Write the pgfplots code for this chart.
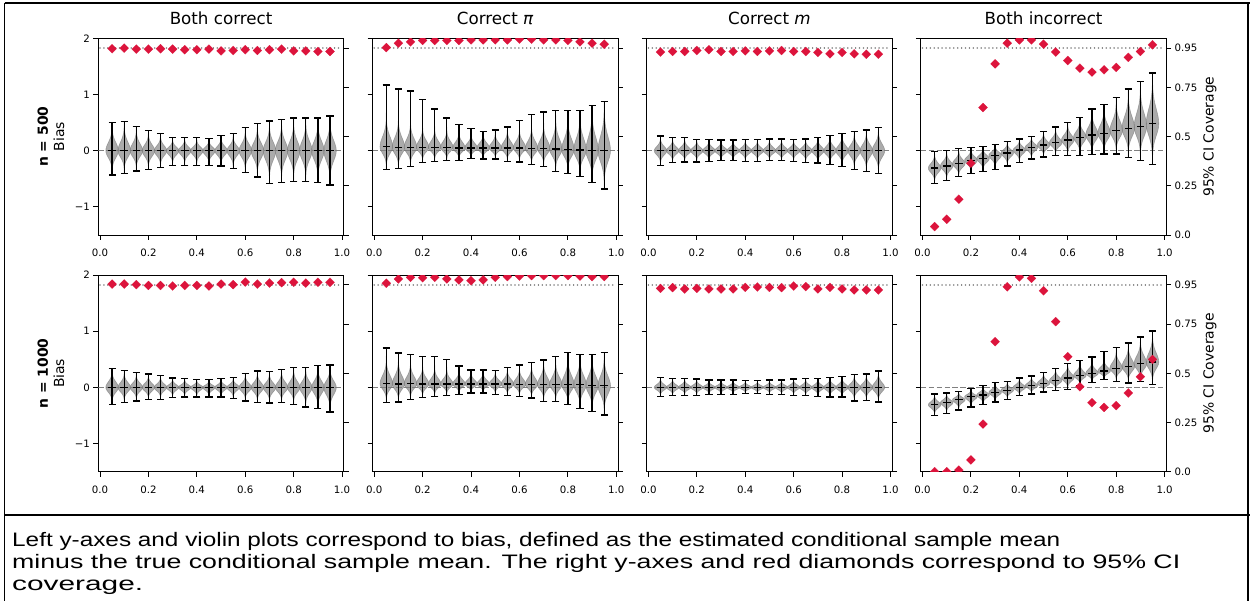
\documentclass[border=0pt]{standalone}
\usepackage{fontspec}
\setmainfont{DejaVu Sans}
\newfontfamily\capfont{Liberation Sans}
\usepackage{graphicx}
\usepackage{pgfplots}
\usepackage{pgfplotstable}
\pgfplotsset{compat=1.18}
\definecolor{crim}{HTML}{DC143C}

% normalized violin outline (u = relative half-width, z = offset in sigmas)
\pgfplotstableread{
u z
0 -3.5
0.0051 -3.25
0.0111 -3
0.0228 -2.75
0.0439 -2.5
0.0796 -2.25
0.1353 -2
0.2163 -1.75
0.3247 -1.5
0.4578 -1.25
0.6065 -1
0.7548 -0.75
0.8825 -0.5
0.9692 -0.25
1 0
0.9692 0.25
0.8825 0.5
0.7548 0.75
0.6065 1
0.4578 1.25
0.3247 1.5
0.2163 1.75
0.1353 2
0.0796 2.25
0.0439 2.5
0.0228 2.75
0.0111 3
0.0051 3.25
0 3.5
-0.0051 3.25
-0.0111 3
-0.0228 2.75
-0.0439 2.5
-0.0796 2.25
-0.1353 2
-0.2163 1.75
-0.3247 1.5
-0.4578 1.25
-0.6065 1
-0.7548 0.75
-0.8825 0.5
-0.9692 0.25
-1 0
-0.9692 -0.25
-0.8825 -0.5
-0.7548 -0.75
-0.6065 -1
-0.4578 -1.25
-0.3247 -1.5
-0.2163 -1.75
-0.1353 -2
-0.0796 -2.25
-0.0439 -2.5
-0.0228 -2.75
-0.0111 -3
-0.0051 -3.25
0 -3.5
}\vshape

% ---- data: x, mean bias, min, max, CI coverage ----
\pgfplotstableread{
x mean lo hi cov
0.05 0 -0.43 0.50 0.947
0.10 0 -0.40 0.52 0.950
0.15 0 -0.36 0.43 0.945
0.20 0 -0.34 0.36 0.945
0.25 0 -0.30 0.30 0.947
0.30 0 -0.26 0.23 0.945
0.35 0 -0.26 0.24 0.942
0.40 0 -0.26 0.23 0.942
0.45 0 -0.26 0.22 0.945
0.50 0 -0.27 0.27 0.936
0.55 0 -0.32 0.30 0.938
0.60 0 -0.39 0.41 0.942
0.65 0 -0.47 0.48 0.938
0.70 0 -0.58 0.53 0.942
0.75 0 -0.56 0.55 0.945
0.80 0 -0.55 0.58 0.936
0.85 0 -0.55 0.58 0.936
0.90 0 -0.56 0.58 0.933
0.95 0 -0.61 0.62 0.933
}\tAa
\pgfplotstableread{
x mean lo hi cov
0.05 0.07 -0.34 1.17 0.953
0.10 0.06 -0.32 1.10 0.975
0.15 0.06 -0.28 1.06 0.982
0.20 0.06 -0.21 0.91 0.989
0.25 0.06 -0.19 0.74 0.989
0.30 0.06 -0.18 0.58 0.989
0.35 0.05 -0.17 0.47 0.989
0.40 0.05 -0.14 0.39 0.992
0.45 0.05 -0.15 0.34 0.992
0.50 0.05 -0.15 0.37 0.992
0.55 0.05 -0.19 0.42 0.992
0.60 0.05 -0.20 0.54 0.996
0.65 0.04 -0.25 0.65 0.996
0.70 0.04 -0.28 0.69 0.992
0.75 0.03 -0.37 0.71 0.992
0.80 0.02 -0.40 0.72 0.989
0.85 0.01 -0.46 0.71 0.982
0.90 0.00 -0.56 0.81 0.975
0.95 0.00 -0.68 0.87 0.970
}\tBa
\pgfplotstableread{
x mean lo hi cov
0.05 0 -0.26 0.26 0.930
0.10 0 -0.21 0.23 0.933
0.15 0 -0.20 0.23 0.933
0.20 0 -0.20 0.20 0.938
0.25 0 -0.19 0.20 0.942
0.30 0 -0.18 0.19 0.933
0.35 0 -0.18 0.19 0.933
0.40 0 -0.19 0.20 0.936
0.45 0 -0.19 0.20 0.933
0.50 0 -0.18 0.21 0.936
0.55 0 -0.18 0.21 0.938
0.60 0 -0.19 0.20 0.933
0.65 0 -0.21 0.21 0.933
0.70 0 -0.22 0.24 0.928
0.75 0 -0.24 0.27 0.921
0.80 0 -0.28 0.31 0.928
0.85 0 -0.33 0.34 0.921
0.90 0 -0.37 0.37 0.919
0.95 0 -0.40 0.41 0.919
}\tCa
\pgfplotstableread{
x mean lo hi cov
0.05 -0.31 -0.585 -0.02 0.043
0.10 -0.27 -0.525 0.005 0.080
0.15 -0.23 -0.465 0.035 0.182
0.20 -0.17 -0.40 0.055 0.365
0.25 -0.14 -0.37 0.07 0.648
0.30 -0.08 -0.33 0.115 0.870
0.35 -0.04 -0.27 0.165 0.975
0.40 0.01 -0.21 0.21 0.992
0.45 0.06 -0.15 0.255 0.992
0.50 0.10 -0.11 0.345 0.970
0.55 0.14 -0.08 0.42 0.930
0.60 0.19 -0.08 0.50 0.887
0.65 0.24 -0.08 0.585 0.848
0.70 0.28 -0.065 0.74 0.828
0.75 0.31 -0.06 0.82 0.840
0.80 0.36 -0.06 0.945 0.852
0.85 0.40 -0.12 1.10 0.903
0.90 0.43 -0.17 1.23 0.933
0.95 0.48 -0.25 1.385 0.967
}\tDa
\pgfplotstableread{
x mean lo hi cov
0.05 0 -0.30 0.34 0.954
0.10 0 -0.27 0.30 0.954
0.15 0 -0.24 0.26 0.951
0.20 0 -0.22 0.24 0.947
0.25 0 -0.21 0.21 0.947
0.30 0 -0.18 0.17 0.944
0.35 0 -0.17 0.16 0.947
0.40 0 -0.17 0.14 0.947
0.45 0 -0.17 0.14 0.944
0.50 0 -0.17 0.16 0.954
0.55 0 -0.20 0.18 0.951
0.60 0 -0.24 0.25 0.964
0.65 0 -0.27 0.29 0.954
0.70 0 -0.28 0.28 0.959
0.75 0 -0.27 0.32 0.961
0.80 0 -0.30 0.36 0.963
0.85 0 -0.35 0.36 0.959
0.90 0 -0.38 0.39 0.963
0.95 0 -0.44 0.40 0.963
}\tAb
\pgfplotstableread{
x mean lo hi cov
0.05 0.065 -0.27 0.70 0.958
0.10 0.06 -0.26 0.61 0.980
0.15 0.065 -0.22 0.58 0.988
0.20 0.06 -0.18 0.55 0.986
0.25 0.06 -0.16 0.55 0.988
0.30 0.06 -0.14 0.50 0.980
0.35 0.06 -0.12 0.38 0.975
0.40 0.06 -0.10 0.31 0.971
0.45 0.06 -0.10 0.31 0.975
0.50 0.06 -0.13 0.30 0.988
0.55 0.06 -0.14 0.35 0.992
0.60 0.055 -0.16 0.40 0.995
0.65 0.055 -0.19 0.44 0.997
0.70 0.05 -0.25 0.49 0.997
0.75 0.05 -0.25 0.55 0.997
0.80 0.05 -0.31 0.62 0.997
0.85 0.05 -0.38 0.59 0.995
0.90 0.04 -0.43 0.59 0.992
0.95 0.03 -0.49 0.62 0.992
}\tBb
\pgfplotstableread{
x mean lo hi cov
0.05 0 -0.16 0.18 0.932
0.10 0 -0.15 0.16 0.936
0.15 0 -0.14 0.16 0.929
0.20 0 -0.14 0.15 0.932
0.25 0 -0.13 0.13 0.929
0.30 0 -0.13 0.13 0.929
0.35 0 -0.12 0.13 0.929
0.40 0 -0.11 0.12 0.937
0.45 0 -0.11 0.12 0.939
0.50 0 -0.12 0.13 0.937
0.55 0 -0.13 0.13 0.936
0.60 0 -0.14 0.15 0.944
0.65 0 -0.15 0.16 0.941
0.70 0 -0.16 0.16 0.929
0.75 0 -0.17 0.18 0.937
0.80 0 -0.17 0.19 0.929
0.85 0 -0.24 0.23 0.924
0.90 0 -0.23 0.24 0.924
0.95 0 -0.26 0.29 0.924
}\tCb
\pgfplotstableread{
x mean lo hi cov
0.05 -0.31 -0.50 -0.115 0.0
0.10 -0.27 -0.46 -0.10 0.0
0.15 -0.22 -0.40 -0.075 0.008
0.20 -0.165 -0.35 -0.025 0.060
0.25 -0.135 -0.31 0.03 0.242
0.30 -0.09 -0.26 0.09 0.661
0.35 -0.05 -0.21 0.105 0.940
0.40 0.0 -0.15 0.17 0.990
0.45 0.03 -0.115 0.205 0.983
0.50 0.07 -0.08 0.265 0.920
0.55 0.12 -0.05 0.34 0.763
0.60 0.17 -0.035 0.43 0.585
0.65 0.21 0.04 0.475 0.432
0.70 0.25 0.09 0.54 0.351
0.75 0.29 0.135 0.635 0.327
0.80 0.34 0.105 0.705 0.336
0.85 0.37 0.08 0.79 0.400
0.90 0.42 0.10 0.895 0.483
0.95 0.45 0.05 1.005 0.571
}\tDb

% violin outline: separate spread below and above the mean (long thin tail capped)
\newcommand\violins[1]{%
  \pgfplotsinvokeforeach{0,...,18}{%
    \pgfplotstablegetelem{##1}{x}\of{#1}\let\vx\pgfplotsretval
    \pgfplotstablegetelem{##1}{mean}\of{#1}\let\vm\pgfplotsretval
    \pgfplotstablegetelem{##1}{lo}\of{#1}\let\vlo\pgfplotsretval
    \pgfplotstablegetelem{##1}{hi}\of{#1}\let\vhi\pgfplotsretval
    \pgfmathsetmacro\sloraw{(\vm-\vlo)/3.5}%
    \pgfmathsetmacro\shiraw{(\vhi-\vm)/3.5}%
    \pgfmathsetmacro\slo{min(\sloraw,1.5*\shiraw)}%
    \pgfmathsetmacro\shi{min(\shiraw,1.5*\sloraw)}%
    \edef\doit{\noexpand\addplot[vio] table[x expr={\vx+0.026*\noexpand\thisrow{u}}, y expr={\vm+\noexpand\thisrow{z}*((\noexpand\thisrow{z}<0)*\slo+(\noexpand\thisrow{z}>=0)*\shi)}]{\noexpand\vshape};}%
    \doit
  }%
}

\pgfplotsset{
  tl/.style={font=\fontsize{10.2bp}{12bp}\selectfont},
  base/.style={scale only axis, width=245.5bp, height=196.7bp, anchor=south west,
    xmin=-0.007, xmax=1.007, tick align=outside, major tick length=4.9bp,
    every tick/.style={black, line width=0.9bp}, axis line style={black, line width=0.9bp},
    ticklabel style={tl}},
  panel/.style={base, ymin=-1.5, ymax=2, xtick={0,0.2,0.4,0.6,0.8,1},
    xticklabels={0.0,0.2,0.4,0.6,0.8,1.0}, xtick pos=bottom, ytick={-1,0,1,2}, ytick pos=left,
    yticklabels={−1,0,1,2}, xticklabel style={yshift=-5.5bp}},
  sec/.style={base, ymin=0, ymax=1, axis x line=none, axis y line*=right,
    ytick={0,0.25,0.5,0.75,0.95}, yticklabels={0.0,0.25,0.5,0.75,0.95}, clip marker paths=true},
  vio/.style={fill=gray, fill opacity=0.66, draw=black!55, draw opacity=0.55, line width=0.6bp, mark=none},
  bars/.style={black, line width=1.3bp, mark=-, mark size=3.8bp, only marks,
    error bars/.cd, y dir=both, y explicit, error mark=-,
    error mark options={rotate=90, black, line width=1.3bp, mark size=3.6bp},
    error bar style={black, line width=1.3bp}},
  zline/.style={gray, line width=1.5bp, dash pattern=on 5.5bp off 2.4bp, mark=none},
  dline/.style={gray, line width=1.6bp, line cap=round, dash pattern=on 0.01bp off 3.9bp, mark=none},
  diam/.style={only marks, mark=square*, mark size=3.2bp, mark options={rotate=45, fill=crim, draw=crim, line width=0.1bp}},
  ttl/.style={title style={font=\fontsize{16.7bp}{20bp}\selectfont, at={(axis description cs:0.5,1)}, anchor=base, yshift=7.6bp}},
  lylab/.style={ylabel style={align=center, font=\fontsize{13.9bp}{16.3bp}\selectfont, at={(axis description cs:-0.193,0.5)}, anchor=center}},
  rylab/.style={ylabel={95\% CI Coverage}, ylabel style={font=\fontsize{13.9bp}{16.3bp}\selectfont, at={(axis description cs:1.178,0.5)}, anchor=center}},
}

\newcommand\drawpanel[5]{%
  \begin{axis}[panel, at={(#1,#2)}, #4]
    \addplot[zline] coordinates {(-0.007,0) (1.007,0)};
    \violins{#3}
    \addplot[bars] table[x=x, y=mean, y error plus expr=\thisrow{hi}-\thisrow{mean}, y error minus expr=\thisrow{mean}-\thisrow{lo}]{#3};
  \end{axis}
  \begin{axis}[sec, at={(#1,#2)}, #5]
    \addplot[dline] coordinates {(0,0.95) (1,0.95)};
    \addplot[diam] table[x=x, y=cov]{#3};
  \end{axis}
}

\begin{document}
\begin{tikzpicture}
\path[use as bounding box] (0bp,0bp) rectangle (1250bp,-601bp);
% table borders
\draw[line width=1.4bp] (4.5bp,-2.8bp) -- (1250bp,-2.8bp);
\draw[line width=1.4bp] (4.5bp,-2.8bp) -- (4.5bp,-601bp);
\draw[line width=1.4bp] (1247.8bp,-2.8bp) -- (1247.8bp,-601bp);
\draw[line width=1.4bp] (4.5bp,-515bp) -- (1250bp,-515bp);

% row 1
\drawpanel{98.3bp}{-235bp}{\tAa}{ttl, title={Both correct}, lylab, ylabel={\textbf{n = 500}\\Bias}}{yticklabels={,,,,}}
\drawpanel{372.5bp}{-235bp}{\tBa}{ttl, title={Correct \textit{π}}, yticklabels={,,,}}{yticklabels={,,,,}}
\drawpanel{646.7bp}{-235bp}{\tCa}{ttl, title={Correct \textit{m}}, yticklabels={,,,}}{yticklabels={,,,,}}
\drawpanel{920.8bp}{-235bp}{\tDa}{ttl, title={Both incorrect}, yticklabels={,,,}}{rylab}
% row 2
\drawpanel{98.3bp}{-471.7bp}{\tAb}{lylab, ylabel={\textbf{n = 1000}\\Bias}}{yticklabels={,,,,}}
\drawpanel{372.5bp}{-471.7bp}{\tBb}{yticklabels={,,,}}{yticklabels={,,,,}}
\drawpanel{646.7bp}{-471.7bp}{\tCb}{yticklabels={,,,}}{yticklabels={,,,,}}
\drawpanel{920.8bp}{-471.7bp}{\tDb}{yticklabels={,,,}}{rylab}

% caption
\begin{scope}[every node/.style={anchor=base west, inner sep=0pt, font=\capfont\fontsize{19.5bp}{21.7bp}\selectfont}]
\node at (12bp,-546.7bp) {\resizebox{1048bp}{\height}{Left y-axes and violin plots correspond to bias, defined as the estimated conditional sample mean}};
\node at (12bp,-568.4bp) {\resizebox{1168bp}{\height}{minus the true conditional sample mean. The right y-axes and red diamonds correspond to 95\% CI}};
\node at (12bp,-590.1bp) {\resizebox{131bp}{\height}{coverage.}};
\end{scope}
\end{tikzpicture}
\end{document}
